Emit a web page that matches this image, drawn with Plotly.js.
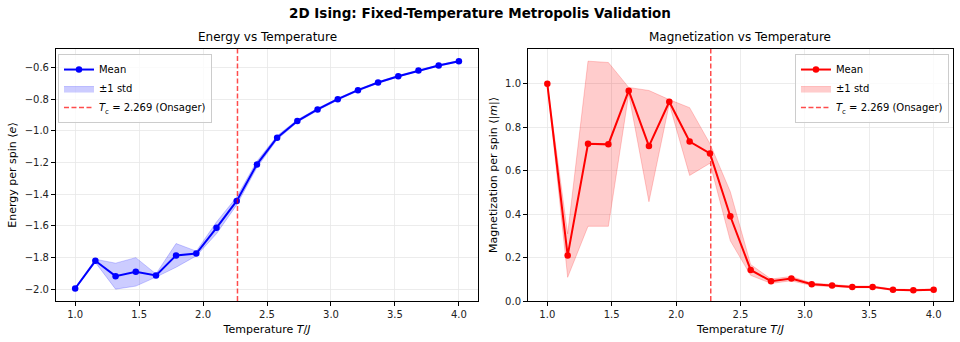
<!DOCTYPE html>
<html>
<head>
<meta charset="utf-8">
<script src="https://cdn.plot.ly/plotly-3.0.1.min.js"></script>
<style>html,body{margin:0;padding:0;background:#fff;}#chart{width:960px;height:342px;}</style>
</head>
<body>
<div id="chart"></div>
<script>
const T = [1.0, 1.158, 1.316, 1.474, 1.632, 1.789, 1.947, 2.105, 2.263, 2.421, 2.579, 2.737, 2.895, 3.053, 3.211, 3.368, 3.526, 3.684, 3.842, 4.0];
const E_mean = [-1.996, -1.821, -1.918, -1.891, -1.914, -1.787, -1.775, -1.613, -1.443, -1.212, -1.043, -0.938, -0.865, -0.800, -0.743, -0.695, -0.655, -0.619, -0.587, -0.560];
const E_std = [0.004, 0.01, 0.082, 0.09, 0.01, 0.075, 0.015, 0.037, 0.025, 0.02, 0.012, 0.008, 0.007, 0.006, 0.005, 0.005, 0.005, 0.004, 0.004, 0.004];
const M_mean = [1.0, 0.209, 0.724, 0.721, 0.968, 0.713, 0.917, 0.734, 0.679, 0.390, 0.143, 0.091, 0.103, 0.077, 0.071, 0.065, 0.065, 0.052, 0.050, 0.052];
const M_std = [0.0, 0.1, 0.38, 0.377, 0.015, 0.256, 0.01, 0.156, 0.045, 0.113, 0.025, 0.01, 0.01, 0.006, 0.005, 0.004, 0.004, 0.003, 0.003, 0.003];
const Tc = 2.269;
const xTicks = [1.0, 1.5, 2.0, 2.5, 3.0, 3.5, 4.0];
const eTicks = [-2.0, -1.8, -1.6, -1.4, -1.2, -1.0, -0.8, -0.6];
const mTicks = [0.0, 0.2, 0.4, 0.6, 0.8, 1.0];

function band(mean, std) {
  const up = mean.map((v, i) => v + std[i]);
  const lo = mean.map((v, i) => v - std[i]);
  return { x: T.concat(T.slice().reverse()), y: up.concat(lo.slice().reverse()) };
}
const eb = band(E_mean, E_std);
const mb = band(M_mean, M_std);
const FONT = 'DejaVu Sans, sans-serif';

const traces = [
  { x: eb.x, y: eb.y, type: 'scatter', mode: 'lines', fill: 'toself', fillcolor: 'rgba(0,0,255,0.2)',
    line: { color: 'rgba(0,0,255,0.2)', width: 1 }, name: '±1 std', legend: 'legend', xaxis: 'x', yaxis: 'y', legendrank: 2, hoverinfo: 'skip' },
  { x: T, y: E_mean, type: 'scatter', mode: 'lines+markers', line: { color: '#0000ff', width: 2 },
    marker: { color: '#0000ff', size: 6.5 }, name: 'Mean', legend: 'legend', xaxis: 'x', yaxis: 'y', legendrank: 1 },
  { x: mb.x, y: mb.y, type: 'scatter', mode: 'lines', fill: 'toself', fillcolor: 'rgba(255,0,0,0.2)',
    line: { color: 'rgba(255,0,0,0.2)', width: 1 }, name: '±1 std', legend: 'legend2', xaxis: 'x2', yaxis: 'y2', legendrank: 2, hoverinfo: 'skip' },
  { x: T, y: M_mean, type: 'scatter', mode: 'lines+markers', line: { color: '#ff0000', width: 2 },
    marker: { color: '#ff0000', size: 6.5 }, name: 'Mean', legend: 'legend2', xaxis: 'x2', yaxis: 'y2', legendrank: 1 }
];

const gridc = '#e7e7e7';
function xa(anchor, domain) {
  return { domain: domain, anchor: anchor, range: [0.85, 4.15], tickvals: xTicks, ticktext: xTicks.map(v => v.toFixed(1)),
    showline: true, linecolor: '#000', linewidth: 1, mirror: true, ticks: 'outside', ticklen: 4, tickcolor: '#000',
    showgrid: true, gridcolor: gridc, gridwidth: 0.8, zeroline: false, tickfont: { size: 10, color: '#222' },
    title: { text: 'Temperature <i>T</i>/<i>J</i>', font: { size: 11, color: '#000' }, standoff: 6 } };
}
function ya(anchor, range, ticks, title) {
  return { domain: [0, 1], anchor: anchor, range: range, tickvals: ticks, ticktext: ticks.map(v => v.toFixed(1).replace('-', '−')),
    showline: true, linecolor: '#000', linewidth: 1, mirror: true, ticks: 'outside', ticklen: 4, tickcolor: '#000',
    showgrid: true, gridcolor: gridc, gridwidth: 0.8, zeroline: false, tickfont: { size: 10, color: '#222' },
    title: { text: title, font: { size: 11, color: '#000' }, standoff: 5 } };
}

const legendBase = { bgcolor: 'rgba(255,255,255,0.8)', bordercolor: '#cccccc', borderwidth: 1,
  font: { size: 10, color: '#000', family: FONT }, tracegroupgap: 0, itemwidth: 30, yanchor: 'top', y: 0.98 };

const layout = {
  width: 960, height: 342,
  margin: { l: 0, r: 0, t: 49, b: 41 },
  paper_bgcolor: '#fff', plot_bgcolor: '#fff',
  font: { family: FONT, color: '#000' },
  title: { text: '<b>2D Ising: Fixed-Temperature Metropolis Validation</b>', font: { size: 13.5, family: FONT }, x: 0.5, xanchor: 'center', y: 0.962, yanchor: 'middle', yref: 'container' },
  xaxis: xa('y', [0.0583, 0.498]),
  yaxis: ya('x', [-2.075, -0.483], eTicks, 'Energy per spin ⟨<i>e</i>⟩'),
  xaxis2: xa('y2', [0.55, 0.9927]),
  yaxis2: ya('x2', [0, 1.16], mTicks, 'Magnetization per spin ⟨|<i>m</i>|⟩'),
  legend: Object.assign({}, legendBase, { x: 0.0604, xanchor: 'left' }),
  legend2: Object.assign({}, legendBase, { x: 0.9885, xanchor: 'right' }),
  shapes: [
    { type: 'line', xref: 'x', yref: 'y domain', x0: Tc, x1: Tc, y0: 0, y1: 1,
      line: { color: 'rgba(255,0,0,0.7)', width: 1.5, dash: '5px,2.5px' }, showlegend: true, legend: 'legend', legendrank: 3,
      name: '<i>T</i><sub>c</sub> = 2.269 (Onsager)' },
    { type: 'line', xref: 'x2', yref: 'y2 domain', x0: Tc, x1: Tc, y0: 0, y1: 1,
      line: { color: 'rgba(255,0,0,0.7)', width: 1.5, dash: '5px,2.5px' }, showlegend: true, legend: 'legend2', legendrank: 3,
      name: '<i>T</i><sub>c</sub> = 2.269 (Onsager)' }
  ],
  annotations: [
    { text: 'Energy vs Temperature', xref: 'x domain', yref: 'paper', x: 0.5, y: 1, yshift: 3, xanchor: 'center', yanchor: 'bottom', showarrow: false, font: { size: 12, family: FONT } },
    { text: 'Magnetization vs Temperature', xref: 'x2 domain', yref: 'paper', x: 0.5, y: 1, yshift: 3, xanchor: 'center', yanchor: 'bottom', showarrow: false, font: { size: 12, family: FONT } }
  ],
  showlegend: true
};

Plotly.newPlot('chart', traces, layout, { displayModeBar: false, staticPlot: true });
</script>
</body>
</html>
